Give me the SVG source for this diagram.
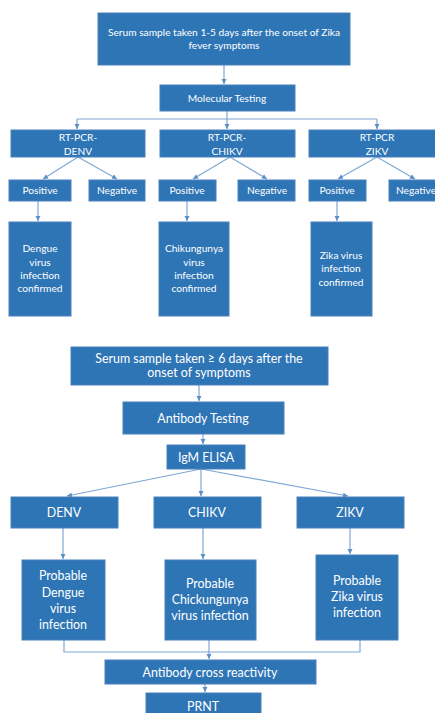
<svg xmlns="http://www.w3.org/2000/svg" width="435" height="713" viewBox="0 0 435 713">
<defs>
<marker id="ah" markerWidth="6" markerHeight="6" refX="5" refY="3" orient="auto" markerUnits="userSpaceOnUse">
<path d="M0,0.5 L5,3 L0,5.5 Z" fill="#5b8fc8"/>
</marker>
<style>
.b{fill:#2e75b6;stroke:#4a80bb;stroke-width:1}
.t{fill:#ffffff;font-family:Lato,"Open Sans",sans-serif;text-anchor:middle}
.s{font-size:10.2px}
.m{font-size:12.4px}
.c{fill:none;stroke:#7fa8d6;stroke-width:1.2}
</style>
</defs>
<rect width="435" height="713" fill="#ffffff"/>
<g id="connectors">
<path class="c" d="M224,65 V84" marker-end="url(#ah)"/>
<path class="c" d="M227,111 V119 M77,119 H377"/>
<path class="c" d="M77,119 V129" marker-end="url(#ah)"/>
<path class="c" d="M227,119 V129" marker-end="url(#ah)"/>
<path class="c" d="M377,119 V129" marker-end="url(#ah)"/>
<path class="c" d="M78,157 L43,179" marker-end="url(#ah)"/>
<path class="c" d="M78,157 L117,179" marker-end="url(#ah)"/>
<path class="c" d="M230,157 L193,179" marker-end="url(#ah)"/>
<path class="c" d="M230,157 L267,179" marker-end="url(#ah)"/>
<path class="c" d="M377,157 L338,179" marker-end="url(#ah)"/>
<path class="c" d="M377,157 L415,179" marker-end="url(#ah)"/>
<path class="c" d="M38,201 V221" marker-end="url(#ah)"/>
<path class="c" d="M187,201 V221" marker-end="url(#ah)"/>
<path class="c" d="M337,201 V221" marker-end="url(#ah)"/>
<path class="c" d="M199,385 V401" marker-end="url(#ah)"/>
<path class="c" d="M203,434 V444" marker-end="url(#ah)"/>
<path class="c" d="M201,469 L67,496" marker-end="url(#ah)"/>
<path class="c" d="M201,469 V496" marker-end="url(#ah)"/>
<path class="c" d="M201,469 L348,496" marker-end="url(#ah)"/>
<path class="c" d="M63,528 V559" marker-end="url(#ah)"/>
<path class="c" d="M203,528 V559" marker-end="url(#ah)"/>
<path class="c" d="M350,528 V554" marker-end="url(#ah)"/>
<path class="c" d="M64,640 V652 H360 V640"/>
<path class="c" d="M209,640 V659" marker-end="url(#ah)"/>
<path class="c" d="M205,684 V692" marker-end="url(#ah)"/>
</g>
<g id="n1"><rect class="b" x="98" y="13" width="252" height="52"/>
<text class="t s" x="224" y="36">Serum sample taken 1-5 days after the onset of Zika</text>
<text class="t s" x="224" y="49">fever symptoms</text></g>
<g id="n2"><rect class="b" x="160" y="85" width="135" height="26"/>
<text class="t s" x="227" y="102">Molecular Testing</text></g>
<g id="n3"><rect class="b" x="11" y="130" width="134" height="27"/>
<text class="t s" x="78" y="141">RT-PCR-</text><text class="t s" x="78" y="155">DENV</text></g>
<g id="n4"><rect class="b" x="160" y="130" width="135" height="27"/>
<text class="t s" x="227" y="141">RT-PCR-</text><text class="t s" x="227" y="155">CHIKV</text></g>
<g id="n5"><rect class="b" x="309" y="130" width="130" height="27"/>
<text class="t s" x="377" y="141">RT-PCR</text><text class="t s" x="377" y="155">ZIKV</text></g>
<g id="n6"><rect class="b" x="9" y="180" width="62" height="21"/><text class="t s" x="40" y="194">Positive</text></g>
<g id="n7"><rect class="b" x="89" y="180" width="56" height="21"/><text class="t s" x="117" y="194">Negative</text></g>
<g id="n8"><rect class="b" x="159" y="180" width="57" height="21"/><text class="t s" x="187" y="194">Positive</text></g>
<g id="n9"><rect class="b" x="238" y="180" width="57" height="21"/><text class="t s" x="267" y="194">Negative</text></g>
<g id="n10"><rect class="b" x="309" y="180" width="57" height="21"/><text class="t s" x="337" y="194">Positive</text></g>
<g id="n11"><rect class="b" x="389" y="180" width="50" height="21"/><text class="t s" x="416" y="194">Negative</text></g>
<g id="n12"><rect class="b" x="9" y="222" width="62" height="94"/>
<text class="t s" x="40" y="252">Dengue</text><text class="t s" x="40" y="266">virus</text><text class="t s" x="40" y="279">infection</text><text class="t s" x="40" y="292">confirmed</text></g>
<g id="n13"><rect class="b" x="159" y="222" width="70" height="94"/>
<text class="t s" x="194" y="252">Chikungunya</text><text class="t s" x="194" y="266">virus</text><text class="t s" x="194" y="279">infection</text><text class="t s" x="194" y="292">confirmed</text></g>
<g id="n14"><rect class="b" x="311" y="222" width="61" height="94"/>
<text class="t s" x="341" y="259">Zika virus</text><text class="t s" x="341" y="272">infection</text><text class="t s" x="341" y="286">confirmed</text></g>
<g id="n15"><rect class="b" x="71" y="347" width="257" height="38"/>
<text class="t m" x="199" y="363">Serum sample taken ≥ 6 days after the</text>
<text class="t m" x="199" y="377">onset of symptoms</text></g>
<g id="n16"><rect class="b" x="123" y="402" width="161" height="32"/><text class="t m" x="203" y="423">Antibody Testing</text></g>
<g id="n17"><rect class="b" x="167" y="445" width="78" height="24"/><text class="t m" x="206" y="462">IgM ELISA</text></g>
<g id="n18"><rect class="b" x="11" y="497" width="107" height="31"/><text class="t m" x="64" y="517">DENV</text></g>
<g id="n19"><rect class="b" x="154" y="497" width="107" height="31"/><text class="t m" x="207" y="517">CHIKV</text></g>
<g id="n20"><rect class="b" x="297" y="497" width="107" height="31"/><text class="t m" x="350" y="517">ZIKV</text></g>
<g id="n21"><rect class="b" x="22" y="560" width="83" height="80"/>
<text class="t m" x="63" y="580">Probable</text><text class="t m" x="63" y="597">Dengue</text><text class="t m" x="63" y="613">virus</text><text class="t m" x="63" y="629">infection</text></g>
<g id="n22"><rect class="b" x="165" y="560" width="91" height="80"/>
<text class="t m" x="210" y="588">Probable</text><text class="t m" x="210" y="604">Chickungunya</text><text class="t m" x="210" y="620">virus infection</text></g>
<g id="n23"><rect class="b" x="316" y="555" width="82" height="85"/>
<text class="t m" x="357" y="585">Probable</text><text class="t m" x="357" y="601">Zika virus</text><text class="t m" x="357" y="617">infection</text></g>
<g id="n24"><rect class="b" x="105" y="660" width="211" height="24"/><text class="t m" x="210" y="677">Antibody cross reactivity</text></g>
<g id="n25"><rect class="b" x="146" y="693" width="115" height="24"/><text class="t m" x="203" y="711">PRNT</text></g>
</svg>
